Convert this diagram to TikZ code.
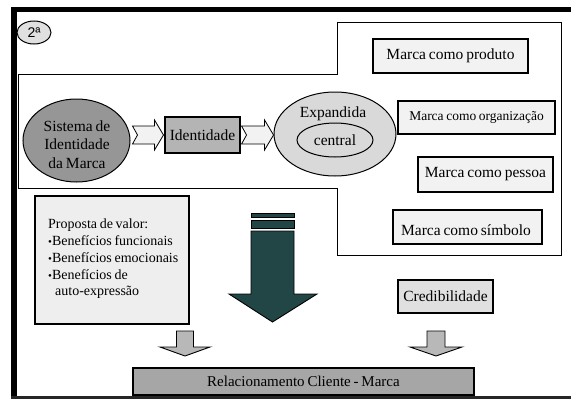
\documentclass[tikz,border=0pt]{standalone}
\usepackage{fontspec}
\setmainfont{Liberation Serif}[WordSpace=0.75]
\newfontfamily\tagfont{Liberation Sans}
\usetikzlibrary{shapes.geometric}

\definecolor{sysgray}{HTML}{969696}
\definecolor{idgray}{HTML}{B4B4B4}
\definecolor{expgray}{HTML}{D9D9D9}
\definecolor{pale}{HTML}{F2F2F2}
\definecolor{propgray}{HTML}{EEEEEE}
\definecolor{credgray}{HTML}{E0E0E0}
\definecolor{arrowgray}{HTML}{B8B8B8}
\definecolor{bargray}{HTML}{A6A6A6}
\definecolor{darkteal}{HTML}{224646}

\newcommand{\smallbullet}{{\fontsize{11}{11}\selectfont\textbullet}}

\tikzset{
  txt/.style={font=\fontsize{15.5}{18.3}\selectfont},
  box/.style={draw, line width=1.1pt, inner sep=0pt, txt},
  oval/.style={ellipse, draw, line width=1pt, inner sep=0pt},
  hollow/.style={draw, line width=0.8pt, fill=pale},
  blockdown/.style={draw, line width=0.9pt, fill=arrowgray},
  bigdown/.style={draw, line width=0.9pt, fill=darkteal},
}

\begin{document}
\begin{tikzpicture}[x=1pt, y=-1pt]
\useasboundingbox (0,0) rectangle (571,399);

% heavy frame: top, left and bottom rules
\fill (11,6.5) rectangle (571,11.5);
\fill (11,6.5) rectangle (17,398.5);
\fill[black!85] (11,396) rectangle (571,398.5);

% outline around the identity system
\draw[line width=1pt] (18,74) -- (337,74) -- (337,22) -- (561.5,22) -- (561.5,255)
  -- (337,255) -- (337,188.5) -- (18,188.5) -- cycle;

% slide tag
\node[oval, fill=credgray, minimum width=34pt, minimum height=23pt,
      font=\tagfont\fontsize{14}{14}\selectfont] (tag) at (34,32.5) {2ª};

% identity system
\node[oval, fill=sysgray, minimum width=107pt, minimum height=83pt] (sys) at (76.5,140.5) {};
\node[txt, align=center, inner sep=0pt] (systxt) at (77,144.5) {Sistema de\\Identidade\\da Marca};

\node[box, fill=idgray, minimum width=75pt, minimum height=36pt] (id) at (202.5,135) {Identidade};

\node[oval, fill=expgray, minimum width=122pt, minimum height=84pt] (exp) at (335,134) {};
\node[txt, inner sep=0pt] (exptxt) at (333,113.5) {Expandida};
\node[oval, fill=expgray, minimum width=76pt, minimum height=34pt, txt] (core) at (335,140) {central};

% notched block arrows between the stages
\draw[hollow] (sys.east |- id.west) ++(2,-9) -- ++(22,0) -- ++(0,-6) -- ++(9,15)
  -- ++(-9,15) -- ++(0,-6) -- ++(-22,0) -- ++(5,-9) -- cycle;
\draw[hollow] (id.east) ++(1,-9) -- ++(23,0) -- ++(0,-6) -- ++(9,15)
  -- ++(-9,15) -- ++(0,-6) -- ++(-23,0) -- ++(5,-9) -- cycle;

% brand perspectives
\node[box, fill=pale, minimum width=155pt, minimum height=34pt] (prod) at (450.5,56) {Marca como produto};
\node[box, fill=pale, minimum width=157pt, minimum height=33pt,
      font=\fontsize{13.5}{16}\selectfont] (org) at (476.5,117.5) {Marca como organização};
\node[box, fill=pale, minimum width=135pt, minimum height=35pt] (pess) at (485.5,174.5) {Marca como pessoa};
\node[box, fill=pale, minimum width=149pt, minimum height=34pt] (simb) at (467.5,227) {};
\node[txt, inner sep=0pt] (simbtxt) at (466,230) {Marca como símbolo};

% value proposition
\node[box, fill=propgray, minimum width=154pt, minimum height=128pt] (prop) at (112,260) {};
\node[anchor=west, inner sep=0pt, align=left, font=\fontsize{14}{16.8}\selectfont] (proptxt) at (48,259)
  {Proposta de valor:\\
   \smallbullet Benefícios funcionais\\
   \smallbullet Benefícios emocionais\\
   \smallbullet Benefícios de\\
   \hspace*{7pt}auto-expressão};

% large downward arrow with stacked bars
\draw[bigdown] (251,213) rectangle (294,217.5);
\draw[bigdown] (251,220.5) rectangle (294,228);
\draw[bigdown] (251,231) -- (294,231) -- (294,294) -- (317,294) -- (272.5,322)
  -- (229,294) -- (251,294) -- cycle;

\node[box, fill=credgray, minimum width=95pt, minimum height=33pt] (cred) at (445.5,296.5) {Credibilidade};

% customer relationship bar
\node[box, fill=bargray, minimum width=341pt, minimum height=27pt,
      font=\fontsize{15}{18}\selectfont] (rel) at (303.5,381.5) {Relacionamento Cliente - Marca};

% small arrows into the bar
\draw[blockdown] (176.5,331) -- (193.5,331) -- (193.5,347) -- (210,347) -- (185,356)
  -- (160,347) -- (176.5,347) -- cycle;
\draw[blockdown] (427,331) -- (445,331) -- (445,347) -- (462,347) -- (436,356)
  -- (410,347) -- (427,347) -- cycle;
\end{tikzpicture}
\end{document}
